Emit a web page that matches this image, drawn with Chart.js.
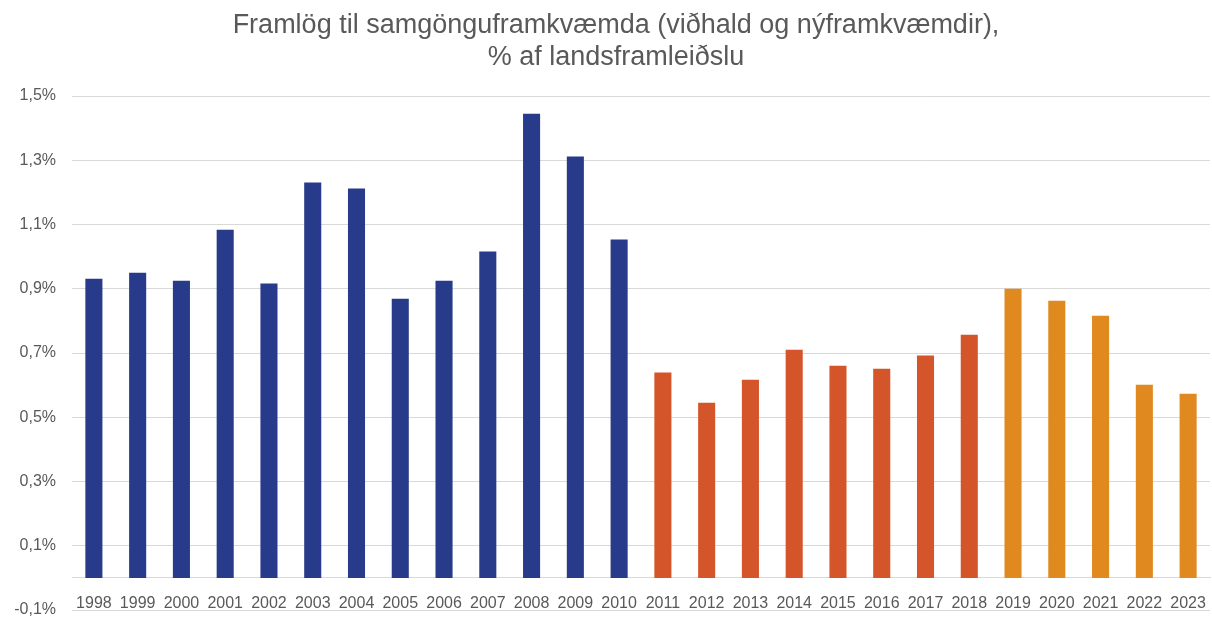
<!DOCTYPE html>
<html>
<head>
<meta charset="utf-8">
<script src="https://cdn.jsdelivr.net/npm/chart.js@4/dist/chart.umd.min.js"></script>
<style>
  html, body { margin: 0; padding: 0; background: #fff; }
  #wrap { width: 1212px; height: 617px; }
</style>
</head>
<body>
<div id="wrap"><canvas id="chart"></canvas></div>
<script>
const years = ["1998","1999","2000","2001","2002","2003","2004","2005","2006","2007","2008","2009","2010",
  "2011","2012","2013","2014","2015","2016","2017","2018","2019","2020","2021","2022","2023"];
const shares = [0.931, 0.950, 0.925, 1.084, 0.916, 1.231, 1.212, 0.869, 0.925, 1.016, 1.445, 1.312, 1.053,
  0.639, 0.545, 0.617, 0.710, 0.660, 0.651, 0.692, 0.757, 0.900, 0.863, 0.816, 0.601, 0.573];
const yTicks = [-0.1, 0.1, 0.3, 0.5, 0.7, 0.9, 1.1, 1.3, 1.5];
const titleLines = ["Framlög til samgönguframkvæmda (viðhald og nýframkvæmdir),", "% af landsframleiðslu"];

// litur eftir tímabili
function barColor(year) {
  const y = Number(year);
  if (y <= 2010) return "#283a8a";
  if (y <= 2018) return "#d4552a";
  return "#e0891f";
}

// titill teiknaður sjálfur (miðjaður aðeins til hægri eins og í frumriti)
const offsetTitle = {
  id: "offsetTitle",
  afterDraw(chart) {
    const c = chart.ctx;
    c.save();
    c.font = "27px 'Liberation Sans'";
    c.fillStyle = "#595959";
    c.textAlign = "center";
    c.textBaseline = "alphabetic";
    titleLines.forEach((line, i) => c.fillText(line, 616, 33 + i * 32));
    c.restore();
  },
};

const ctx = document.getElementById("chart").getContext("2d");

new Chart(ctx, {
  type: "bar",
  data: {
    labels: years,
    datasets: [{
      data: shares,
      backgroundColor: years.map(barColor),
      barPercentage: 0.39,
      categoryPercentage: 1.0,
    }],
  },
  options: {
    responsive: true,
    maintainAspectRatio: false,
    animation: false,
    layout: { padding: { left: 0, right: 2, bottom: 7, top: 96 } },
    plugins: {
      legend: { display: false },
      tooltip: { enabled: false },
      title: { display: false },
    },
    scales: {
      x: {
        position: { y: 0 },
        afterFit: (scale) => {
          scale.height = 0;
          scale.paddingLeft = 0;
          scale.paddingRight = 0;
        },
        grid: { display: false, drawTicks: false },
        border: { display: true, color: "#d9d9d9", width: 1 },
        ticks: {
          color: "#595959",
          font: { family: "Liberation Sans", size: 16 },
          padding: 16,
          autoSkip: false,
          maxRotation: 0,
        },
      },
      y: {
        min: -0.1,
        max: 1.5,
        afterBuildTicks: (scale) => {
          scale.ticks = yTicks.map((v) => ({ value: v }));
        },
        afterFit: (scale) => {
          scale.width = 72;
          scale.paddingTop = 0;
          scale.paddingBottom = 0;
        },
        grid: { color: "#d9d9d9", lineWidth: 1, drawTicks: false },
        border: { display: false },
        ticks: {
          color: "#595959",
          font: { family: "Liberation Sans", size: 16 },
          padding: 16,
          callback: (v) => v.toFixed(1).replace(".", ",") + "%",
        },
      },
    },
  },
  plugins: [offsetTitle],
});
</script>
</body>
</html>
